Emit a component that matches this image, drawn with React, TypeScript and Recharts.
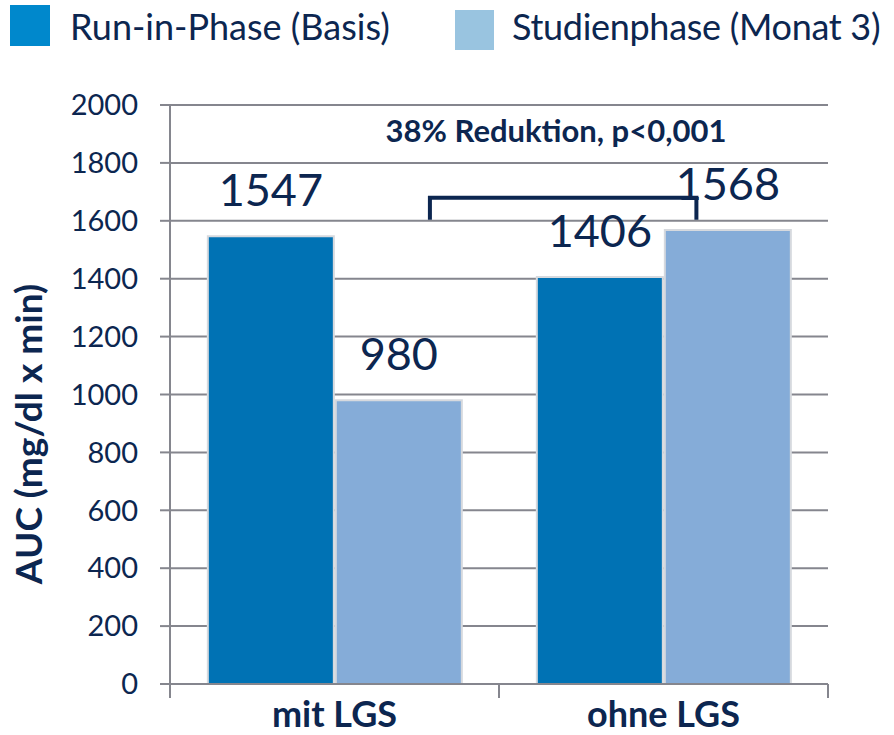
import { BarChart, Bar, XAxis, YAxis, CartesianGrid, LabelList, Legend } from 'recharts'

const categories = ['mit LGS', 'ohne LGS']
const runInValues = [1547, 1406]
const studyValues = [980, 1568]
const yTicks = [0, 200, 400, 600, 800, 1000, 1200, 1400, 1600, 1800, 2000]
const seriesNames = ['Run-in-Phase (Basis)', 'Studienphase (Monat 3)']
const annotationText = '38% Reduktion, p<0,001'
const bracketValue = 1680

const data = categories.map((c, i) => ({
  name: c,
  runIn: runInValues[i],
  study: studyValues[i],
}))

const W = 894
const H = 735
const LEGEND_H = 60
const M = { top: 105 - LEGEND_H, right: 66, left: 0, bottom: 0 }
const Y_AXIS_W = 170
const X_AXIS_H = 51
const PLOT_L = M.left + Y_AXIS_W
const PLOT_R = W - M.right
const PLOT_T = 105
const PLOT_B = H - M.bottom - X_AXIS_H
const BAND = (PLOT_R - PLOT_L) / categories.length
const yPx = (v: number) => PLOT_B - (v / 2000) * (PLOT_B - PLOT_T)

const NAVY = '#0c2650'
const GRID = '#85868e'
const DARK = '#0072b4'
const LIGHT = '#85acd8'
const FONT = 'Lato, "Open Sans", sans-serif'

const XTick = (props: any) => {
  const { x, y, payload, index } = props
  const half = BAND / 2
  return (
    <g>
      {index === 0 && <line x1={x - half} y1={y} x2={x - half} y2={y + 14} stroke={GRID} strokeWidth={2} />}
      <line x1={x + half} y1={y} x2={x + half} y2={y + 14} stroke={GRID} strokeWidth={2} />
      <text x={x} y={y + 43} textAnchor="middle" fill={NAVY} fontSize={36} fontWeight={700} fontFamily={FONT}>
        {payload.value}
      </text>
    </g>
  )
}

const ValueLabel = (props: any) => {
  const { x, y, width, value } = props
  return (
    <text x={x + width / 2} y={y - 30} textAnchor="middle" fill={NAVY} fontSize={45} fontFamily={FONT}>
      {value}
    </text>
  )
}

const LegendContent = () => (
  <div style={{ position: 'relative', width: W, height: LEGEND_H, fontFamily: FONT, color: NAVY, fontSize: 36 }}>
    <div style={{ position: 'absolute', left: 10, top: 5, width: 40, height: 41, background: '#0088cc' }} />
    <div style={{ position: 'absolute', left: 70, top: 6, lineHeight: '40px', whiteSpace: 'nowrap' }}>{seriesNames[0]}</div>
    <div style={{ position: 'absolute', left: 455, top: 10, width: 39, height: 40, background: '#99c4e0' }} />
    <div style={{ position: 'absolute', left: 512, top: 6, lineHeight: '40px', whiteSpace: 'nowrap', letterSpacing: -0.3 }}>
      {seriesNames[1]}
    </div>
  </div>
)

export default function App() {
  const bx1 = PLOT_L + BAND * 0.79
  const bx2 = PLOT_L + BAND * 1.6
  const by = yPx(bracketValue)
  return (
    <div style={{ position: 'absolute', left: 0, top: 0, width: W, height: H, background: '#fff', overflow: 'hidden' }}>
      <BarChart width={W} height={H} data={data} margin={M} barCategoryGap="11.5%" barGap={2}>
        <CartesianGrid vertical={false} stroke={GRID} strokeWidth={2} />
        <Legend verticalAlign="top" height={LEGEND_H} content={<LegendContent />} wrapperStyle={{ top: 0, left: 0 }} />
        <XAxis
          dataKey="name"
          height={X_AXIS_H}
          axisLine={{ stroke: GRID, strokeWidth: 2 }}
          tickLine={false}
          tickSize={0}
          tickMargin={0}
          tick={<XTick />}
          interval={0}
        />
        <YAxis
          width={Y_AXIS_W}
          domain={[0, 2000]}
          ticks={yTicks}
          interval={0}
          tickSize={10}
          tickMargin={22}
          axisLine={{ stroke: GRID, strokeWidth: 2 }}
          tickLine={{ stroke: GRID, strokeWidth: 2 }}
          tick={{ fill: NAVY, fontSize: 29, fontFamily: FONT }}
        />
        <Bar dataKey="runIn" name={seriesNames[0]} fill={DARK} stroke="#d6d9de" strokeWidth={2} isAnimationActive={false}>
          <LabelList dataKey="runIn" content={<ValueLabel />} />
        </Bar>
        <Bar dataKey="study" name={seriesNames[1]} fill={LIGHT} stroke="#d6d9de" strokeWidth={2} isAnimationActive={false}>
          <LabelList dataKey="study" content={<ValueLabel />} />
        </Bar>
      </BarChart>
      <svg width={W} height={H} style={{ position: 'absolute', left: 0, top: 0, pointerEvents: 'none' }}>
        <path
          d={`M${bx1},${by + 22} L${bx1},${by} L${bx2},${by} L${bx2},${by + 22}`}
          fill="none"
          stroke={NAVY}
          strokeWidth={4}
        />
        <text x={556} y={142} textAnchor="middle" fill={NAVY} fontSize={31} fontWeight={700} fontFamily={FONT}>
          {annotationText}
        </text>
        <text
          transform={`translate(42, 434) rotate(-90)`}
          textAnchor="middle"
          fill={NAVY}
          fontSize={37}
          fontWeight={700}
          fontFamily={FONT}
        >
          AUC (mg/dl x min)
        </text>
      </svg>
    </div>
  )
}
